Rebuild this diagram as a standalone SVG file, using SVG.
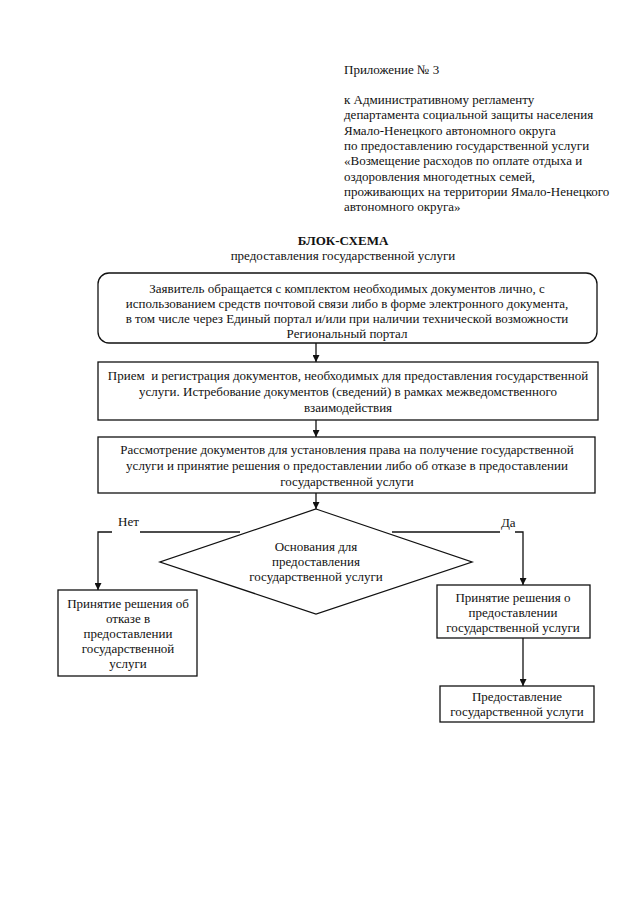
<svg xmlns="http://www.w3.org/2000/svg" width="640" height="905" viewBox="0 0 640 905">
<style>
text{font-family:"Liberation Serif","Times New Roman",serif;font-size:13px;fill:#111}
.c{text-anchor:middle}
.b{font-weight:bold}
.box{fill:#fff;stroke:#111;stroke-width:1.3}
.ln{fill:none;stroke:#111;stroke-width:1.3}
</style>
<defs>
<marker id="ah" viewBox="0 0 10 10" refX="10" refY="5" markerWidth="7" markerHeight="7" orient="auto" markerUnits="userSpaceOnUse">
<path d="M0,0 L10,5 L0,10 z" fill="#111"/>
</marker>
</defs>
<rect width="640" height="905" fill="#fff"/>
<g id="header">
<text x="344" y="74">Приложение № 3</text>
<text x="344" y="104">к Административному регламенту</text>
<text x="344" y="119.3">департамента социальной защиты населения</text>
<text x="344" y="134.6">Ямало-Ненецкого автономного округа</text>
<text x="344" y="149.9">по предоставлению государственной услуги</text>
<text x="344" y="165.2">«Возмещение расходов по оплате отдыха и</text>
<text x="344" y="180.5">оздоровления многодетных семей,</text>
<text x="344" y="195.8">проживающих на территории Ямало-Ненецкого</text>
<text x="344" y="211.1">автономного округа»</text>
</g>
<g id="title">
<text class="c b" x="343" y="245">БЛОК-СХЕМА</text>
<text class="c" x="343" y="260">предоставления государственной услуги</text>
</g>
<g id="connectors">
<line class="ln" x1="316" y1="343" x2="316" y2="362" marker-end="url(#ah)"/>
<line class="ln" x1="316" y1="420" x2="316" y2="437" marker-end="url(#ah)"/>
<line class="ln" x1="316" y1="493" x2="316" y2="509" marker-end="url(#ah)"/>
<line class="ln" x1="240" y1="532" x2="140" y2="532"/>
<polyline class="ln" points="112,532 98,532 98,590" marker-end="url(#ah)"/>
<line class="ln" x1="392" y1="532" x2="500" y2="532"/>
<polyline class="ln" points="515,532 523,532 523,585" marker-end="url(#ah)"/>
<line class="ln" x1="523" y1="638" x2="523" y2="686" marker-end="url(#ah)"/>
<text x="118" y="526">Нет</text>
<text x="501" y="527">Да</text>
</g>
<g id="n1">
<rect class="box" x="98" y="273" width="499" height="70" rx="11"/>
<text class="c" x="347" y="293">Заявитель обращается с комплектом необходимых документов лично, с</text>
<text class="c" x="347" y="308">использованием средств почтовой связи либо в форме электронного документа,</text>
<text class="c" x="347" y="323">в том числе через Единый портал и/или при наличии технической возможности</text>
<text class="c" x="347" y="338">Региональный портал</text>
</g>
<g id="n2">
<rect class="box" x="98" y="362" width="500" height="58"/>
<text class="c" x="348" y="380" xml:space="preserve">Прием  и регистрация документов, необходимых для предоставления государственной</text>
<text class="c" x="348" y="396">услуги. Истребование документов (сведений) в рамках межведомственного</text>
<text class="c" x="348" y="412">взаимодействия</text>
</g>
<g id="n3">
<rect class="box" x="98" y="437" width="497" height="56"/>
<text class="c" x="347" y="454">Рассмотрение документов для установления права на получение государственной</text>
<text class="c" x="347" y="470">услуги и принятие решения о предоставлении либо об отказе в предоставлении</text>
<text class="c" x="347" y="486">государственной услуги</text>
</g>
<g id="n4">
<polygon class="box" points="316,509 472,562 316,614 160,562"/>
<text class="c" x="316" y="551">Основания для</text>
<text class="c" x="316" y="566">предоставления</text>
<text class="c" x="316" y="581">государственной услуги</text>
</g>
<g id="n5">
<rect class="box" x="58" y="590" width="139" height="86"/>
<text class="c" x="128" y="608">Принятие решения об</text>
<text class="c" x="128" y="623">отказе в</text>
<text class="c" x="128" y="638">предоставлении</text>
<text class="c" x="128" y="653">государственной</text>
<text class="c" x="128" y="668">услуги</text>
</g>
<g id="n6">
<rect class="box" x="437" y="585" width="153" height="53"/>
<text class="c" x="513" y="602">Принятие решения о</text>
<text class="c" x="513" y="617">предоставлении</text>
<text class="c" x="513" y="632">государственной услуги</text>
</g>
<g id="n7">
<rect class="box" x="440" y="686" width="154" height="36"/>
<text class="c" x="517" y="701">Предоставление</text>
<text class="c" x="517" y="716">государственной услуги</text>
</g>
</svg>
